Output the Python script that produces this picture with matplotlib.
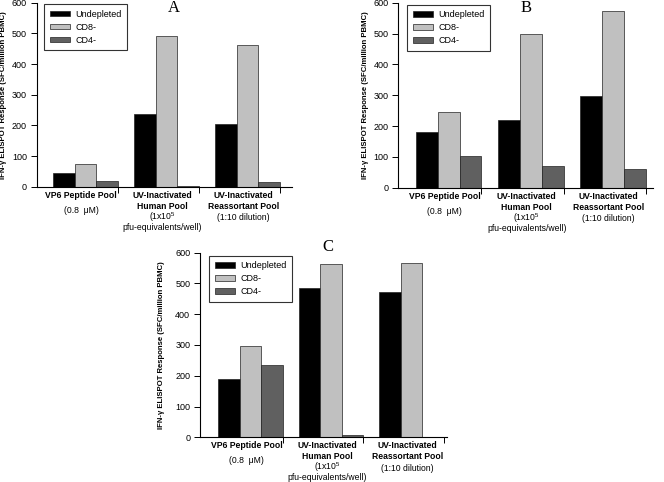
import matplotlib
matplotlib.use("Agg")
import matplotlib.pyplot as plt
import numpy as np

plt.rcParams['font.family'] = ['Liberation Sans', 'DejaVu Sans']
plt.rcParams['mathtext.fontset'] = 'custom'
plt.rcParams['mathtext.rm'] = 'Liberation Sans'
plt.rcParams['mathtext.it'] = 'Liberation Sans:italic'
plt.rcParams['mathtext.bf'] = 'Liberation Sans:bold'

# ---- data ----
series_names = ["Undepleted", "CD8-", "CD4-"]
categories = ["VP6 Peptide Pool", "UV-Inactivated Human Pool", "UV-Inactivated Reassortant Pool"]

A_undepleted = [46, 237, 203]
A_cd8 = [74, 491, 461]
A_cd4 = [18, 2, 16]

B_undepleted = [182, 221, 297]
B_cd8 = [245, 497, 574]
B_cd4 = [102, 69, 61]

C_undepleted = [190, 486, 473]
C_cd8 = [297, 564, 567]
C_cd4 = [236, 9, 0]

yticks = [0, 100, 200, 300, 400, 500, 600]
ylabel = "IFN-\u03b3 ELISPOT Response (SFC/million PBMC)"

colors = ["#000000", "#c0c0c0", "#606060"]

W, H = 664, 482
fig = plt.figure(figsize=(W / 100, H / 100), dpi=100)


def px_axes(left, right, top, bottom):
    return fig.add_axes([left / W, (H - bottom) / H, (right - left) / W, (bottom - top) / H])


# label lines: (text, bold, pixel offset below axis)
label_lines = [
    [("VP6 Peptide Pool", True, 8.5), ("(0.8  \u03bcM)", False, 23.5)],
    [("UV-Inactivated", True, 8.5), ("Human Pool", True, 19.5), (r"(1x10$^{5}$", False, 30),
     ("pfu-equivalents/well)", False, 40.5)],
    [("UV-Inactivated", True, 8.5), ("Reassortant Pool", True, 19.5), ("(1:10 dilution)", False, 31)],
]

bw = 0.267


def draw_panel(ax, undep, cd8, cd4, xlim, leg_xy, ylab_px):
    x = np.arange(len(categories))
    for k, (vals, col, name) in enumerate(zip([undep, cd8, cd4], colors, series_names)):
        ax.bar(x + (k - 1) * bw, vals, width=bw, color=col, edgecolor="#222222",
               linewidth=0.5, label=name, zorder=2)
    ax.set_xlim(*xlim)
    ax.set_ylim(0, 600)
    ax.set_yticks(yticks)
    ax.set_yticklabels([str(t) for t in yticks], fontsize=6.5)
    ax.set_xticks(x + 1.5 * bw)
    ax.set_xticklabels([])
    ax.tick_params(axis='y', direction='out', length=4, width=0.7, pad=3)
    ax.tick_params(axis='x', direction='out', length=4, width=0.7)
    for s in ["top", "right"]:
        ax.spines[s].set_visible(False)
    for s in ["left", "bottom"]:
        ax.spines[s].set_linewidth(0.8)
    ax.set_ylabel(ylabel, fontsize=5.6, fontweight='bold')
    bbox = ax.get_position()
    ax.yaxis.set_label_coords(-ylab_px / (bbox.width * W), 0.5)
    for i, lines in enumerate(label_lines):
        for txt, bold, off in lines:
            ax.annotate(txt, xy=(i, 0), xycoords=('data', 'axes fraction'),
                        xytext=(-4, -off), textcoords='offset pixels',
                        ha='center', va='center', fontsize=6.2,
                        fontweight='bold' if bold else 'normal')
    leg = ax.legend(loc='upper left', bbox_to_anchor=leg_xy, fontsize=6.5,
                    frameon=True, fancybox=False, shadow=False, borderpad=0.6,
                    handlelength=2.2, handleheight=0.6, labelspacing=0.45,
                    handletextpad=0.6, borderaxespad=0)
    leg.get_frame().set_edgecolor('black')
    leg.get_frame().set_linewidth(0.8)


axA = px_axes(36.7, 292, 2.7, 186.7)
draw_panel(axA, A_undepleted, A_cd8, A_cd4, (-0.6, 2.55), (0.03, 0.992), 30)

axB = px_axes(398.3, 653, 2.7, 187.7)
draw_panel(axB, B_undepleted, B_cd8, B_cd4, (-0.612, 2.49), (0.036, 0.988), 29)

axC = px_axes(200, 447, 252.7, 437.3)
draw_panel(axC, C_undepleted, C_cd8, C_cd4, (-0.63, 2.44), (0.038, 0.983), 35)

for t, (px, py) in zip(["A", "B", "C"], [(174, 8), (526, 8), (328, 247)]):
    fig.text(px / W, 1 - py / H, t, ha='center', va='center', fontsize=12,
             family=['Liberation Serif', 'DejaVu Serif'])

fig.savefig("out.png", dpi=100)
